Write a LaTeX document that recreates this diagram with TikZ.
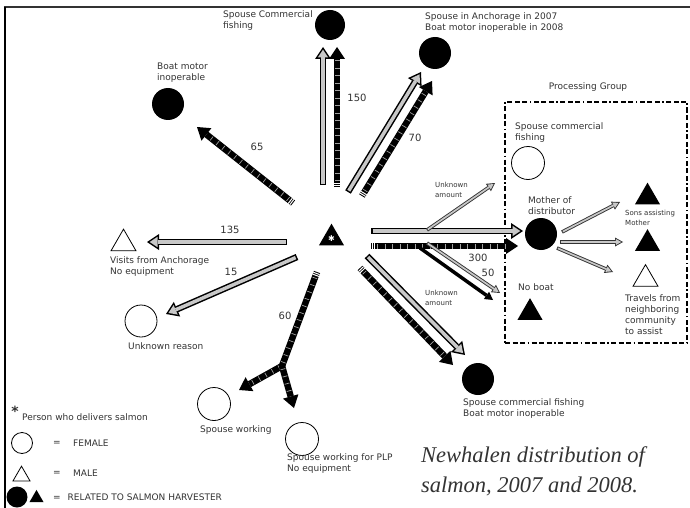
\documentclass[tikz,border=0pt]{standalone}
\usepackage{fontspec}
\setmainfont{DejaVu Sans}
\newfontfamily\capfont{Liberation Serif}
\usetikzlibrary{arrows.meta,shapes.geometric}
\definecolor{txt}{HTML}{333333}
\definecolor{lgray}{HTML}{C8C8C8}
\definecolor{tickc}{HTML}{A0A0A0}
\tikzset{
 lbl/.style={font=\fontsize{9}{11}\selectfont, text=txt, inner sep=0pt, align=left, anchor=west},
 small/.style={font=\fontsize{7}{10}\selectfont, text=txt, inner sep=0pt, align=left, anchor=west},
 num/.style={font=\fontsize{10}{12}\selectfont, text=txt, inner sep=0pt},
 bcirc/.style={circle, fill=black, inner sep=0pt, minimum size=32pt},
 wcirc/.style={circle, draw=black, line width=0.8pt, fill=white, inner sep=0pt, minimum size=33pt},
 tri/.style={regular polygon, regular polygon sides=3, inner sep=0pt, minimum size=28.9pt},
 btri/.style={tri, fill=black},
 wtri/.style={tri, draw=black, line width=0.8pt, fill=white},
 gout/.style={line width=6.5pt, black, -{Triangle[width=16pt,length=12pt,line width=0pt]}},
 gin/.style={line width=3.5pt, lgray, shorten <=1.5pt, shorten >=2.7pt, -{Triangle[width=10.4pt,length=7.8pt,line width=0pt]}},
 dshaft/.style={line width=6.5pt, black, -{Triangle[width=16pt,length=12pt,line width=0pt]}},
 dshaftplain/.style={line width=6.5pt, black},
 dticks/.style={line width=5pt, tickc, dash pattern=on 0.7pt off 6.8pt, shorten <=6pt, shorten >=13pt},
 dticksplain/.style={line width=5pt, tickc, dash pattern=on 0.7pt off 6.8pt, shorten <=6pt},
 dtail/.style={line width=6.7pt, white, dash pattern=on 0pt off 1pt on 1pt off 1pt on 1pt off 1000pt},
 tout/.style={line width=3.5pt, txt, -{Triangle[width=9pt,length=8pt,line width=0pt]}},
 tin/.style={line width=1.7pt, lgray, shorten <=0.9pt, shorten >=1.8pt, -{Triangle[width=5.9pt,length=5.3pt,line width=0pt]}},
 tdark/.style={line width=3.5pt, black, -{Triangle[width=9pt,length=8pt,line width=0pt]}},
 pgbox/.style={draw=black, line width=1.3pt, dash pattern=on 5pt off 2.5pt on 5pt off 2.5pt on 5pt off 2.5pt on 1.5pt off 2.5pt, inner sep=0pt},
 captxt/.style={font=\capfont\itshape\fontsize{22.5}{30}\selectfont, text=txt, anchor=base west, inner sep=0pt},
}
\newcommand\GArrow[2]{\draw[gout] (#1) -- (#2); \draw[gin] (#1) -- (#2);}
\newcommand\DArrow[2]{\draw[dshaft] (#1) -- (#2); \draw[dticks] (#1) -- (#2); \draw[dtail] (#1) -- (#2);}
\newcommand\TArrow[2]{\draw[tout] (#1) -- (#2); \draw[tin] (#1) -- (#2);}
\begin{document}
\begin{tikzpicture}[x=1pt,y=-1pt]
\useasboundingbox (0,0) rectangle (690,508);
\fill[white] (0,0) rectangle (690,508);
% frame
\draw[line width=2.5pt, txt] (3.75,7) -- (690,7);
\draw[line width=2.5pt, black] (5,7) -- (5,508);

% processing group box
\node[pgbox, minimum width=182pt, minimum height=241pt] (pg) at (596,222.5) {};
\node[lbl, anchor=center] (tPG) at (588,87) {Processing Group};

% circles
\node[bcirc, minimum size=30pt] (ctop) at (330,25) {};
\node[bcirc] (cboat) at (168,104) {};
\node[bcirc] (canch) at (435,53) {};
\node[wcirc] (cpg) at (528,163) {};
\node[bcirc] (cmother) at (541,234) {};
\node[bcirc] (clr) at (478,379) {};
\node[wcirc, minimum size=32pt] (cunk) at (141,321) {};
\node[wcirc] (csw) at (214,404) {};
\node[wcirc] (cplp) at (302,439) {};

% triangles
\node[btri] (deliv) at (331.5,238.1) {};
\node[text=white, font=\fontsize{8}{8}\selectfont, inner sep=0pt] (star) at (331.5,238.5) {✱};
\node[wtri] (visits) at (123.5,243.6) {};
\node[btri] (sons1) at (647.5,197.1) {};
\node[btri] (sons2) at (647.5,243.6) {};
\node[wtri] (travels) at (645.5,279.1) {};
\node[btri] (noboat) at (530,312.6) {};

% arrow end points
\coordinate (g1s) at (323,185); \coordinate (g1e) at (323,47);
\coordinate (g2s) at (348,192); \coordinate (g2e) at (421,72);
\coordinate (g3s) at (371,231); \coordinate (g3e) at (523,231);
\coordinate (g4s) at (367,256); \coordinate (g4e) at (465,355);
\coordinate (g5s) at (287,242); \coordinate (g5e) at (147,242);
\coordinate (g6s) at (297,257); \coordinate (g6e) at (166,314);
\coordinate (d1s) at (337,187); \coordinate (d1e) at (337,47);
\coordinate (d2s) at (362,196); \coordinate (d2e) at (432,81);
\coordinate (d3s) at (371,246); \coordinate (d3e) at (518,246);
\coordinate (d4s) at (360,268); \coordinate (d4e) at (453,365);
\coordinate (d5s) at (293,203); \coordinate (d5e) at (197,127);
\coordinate (d6s) at (317,272); \coordinate (junc) at (282,366);
\coordinate (d7e) at (239,390); \coordinate (d8e) at (294,408);
\coordinate (t1s) at (427,230); \coordinate (t1e) at (495,183);
\coordinate (t2s) at (427,243); \coordinate (t2e) at (500,293);
\coordinate (m1s) at (562,232); \coordinate (m1e) at (620,202);
\coordinate (m2s) at (560,242); \coordinate (m2e) at (623,242);
\coordinate (m3s) at (557,248); \coordinate (m3e) at (613,272);
\coordinate (k1s) at (420,248); \coordinate (k1e) at (493,300);

% big arrows
\GArrow{g1s}{g1e}
\DArrow{d1s}{d1e}
\GArrow{g2s}{g2e}
\DArrow{d2s}{d2e}
\GArrow{g3s}{g3e}
\DArrow{d3s}{d3e}
\GArrow{g4s}{g4e}
\DArrow{d4s}{d4e}
\GArrow{g5s}{g5e}
\GArrow{g6s}{g6e}
\DArrow{d5s}{d5e}
\draw[dshaftplain] (d6s) -- (junc);
\draw[dticksplain] (d6s) -- (junc);
\draw[dtail] (d6s) -- (junc);
\draw[dshaft] (junc) -- (d7e); \draw[dticks, shorten <=3pt] (junc) -- (d7e);
\draw[dshaft] (junc) -- (d8e); \draw[dticks, shorten <=3pt] (junc) -- (d8e);

% thin arrows
\draw[tdark] (k1s) -- (k1e);
\TArrow{t1s}{t1e}
\TArrow{t2s}{t2e}
\TArrow{m1s}{m1e}
\TArrow{m2s}{m2e}
\TArrow{m3s}{m3e}

% labels
\node[lbl] (tTop) at (223,20.5) {Spouse Commercial\\fishing};
\node[lbl] (tBoat) at (157,72.5) {Boat motor\\inoperable};
\node[lbl] (tAnch) at (425,23) {Spouse in Anchorage in 2007\\Boat motor inoperable in 2008};
\node[lbl] (tPGs) at (515,132.5) {Spouse commercial\\fishing};
\node[small] (tUnk1) at (435,190) {Unknown\\amount};
\node[lbl] (tMother) at (528,206) {Mother of\\distributor};
\node[small] (tSons) at (625,218) {Sons assisting\\Mother};
\node[lbl] (tTrav) at (625,315) {Travels from\\neighboring\\community\\to assist};
\node[lbl] (tNoBoat) at (518,287) {No boat};
\node[small] (tUnk2) at (425,297.5) {Unknown\\amount};
\node[lbl] (tVisits) at (110,266.5) {Visits from Anchorage\\No equipment};
\node[lbl] (tUnkR) at (128,346) {Unknown reason};
\node[lbl] (tSW) at (200,430) {Spouse working};
\node[lbl] (tPLP) at (287,464) {Spouse working for PLP\\No equipment};
\node[lbl] (tLR) at (463,408.5) {Spouse commercial fishing\\Boat motor inoperable};

% numbers
\node[num] (n150) at (357,98) {150};
\node[num] (n65) at (257,147) {65};
\node[num] (n70) at (415,138) {70};
\node[num] (n135) at (230,230) {135};
\node[num] (n15) at (231,272) {15};
\node[num] (n60) at (285,316) {60};
\node[num] (n300) at (478,258) {300};
\node[num] (n50) at (488,273) {50};

% legend
\node[font=\bfseries\fontsize{14}{14}\selectfont, inner sep=0pt, text=txt] (lstar) at (15,411) {*};
\node[lbl] (lperson) at (22,417) {Person who delivers salmon};
\node[wcirc, minimum size=21pt] (lfem) at (22,443) {};
\node[lbl] (leq1) at (53,443) {=};
\node[lbl] (lF) at (73,443) {FEMALE};
\node[wtri, minimum size=19.6pt] (lmale) at (21.5,476) {};
\node[lbl] (leq2) at (53,473) {=};
\node[lbl] (lM) at (73,473) {MALE};
\node[bcirc, minimum size=21pt] (lrel) at (17,497) {};
\node[btri, minimum size=16.2pt] (lreltri) at (36.5,498) {};
\node[lbl] (lR) at (53,497) {=\hspace{7pt}RELATED TO SALMON HARVESTER};

% caption
\node[captxt] (cap1) at (421,462) {Newhalen distribution of};
\node[captxt] (cap2) at (421,492) {salmon, 2007 and 2008.};
\end{tikzpicture}
\end{document}
